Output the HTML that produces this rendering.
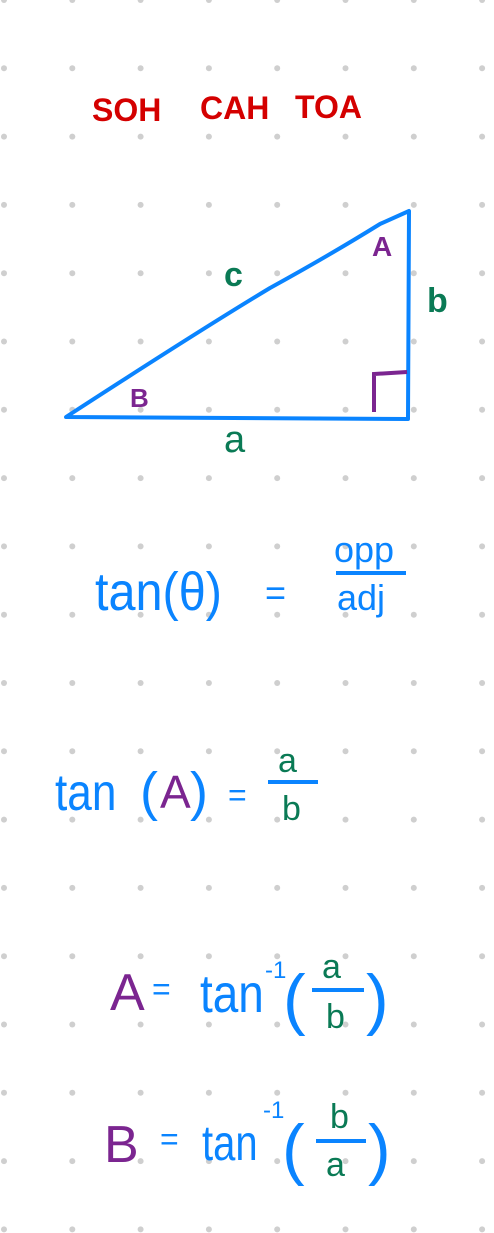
<!DOCTYPE html>
<html><head><meta charset="utf-8"><style>
html,body{margin:0;padding:0;background:#fff}
svg{display:block}
text{font-family:"Liberation Sans",sans-serif}
</style></head><body>
<svg id="s" width="494" height="1233" viewBox="0 0 494 1233">
<g id="dots"></g>
<g font-size="32" font-weight="bold" fill="#d40000">
<text x="92" y="121">SOH</text>
<text x="200" y="119">CAH</text>
<text x="295" y="118">TOA</text>
</g>
<g fill="none" stroke="#0a84ff" stroke-width="4" stroke-linecap="round" stroke-linejoin="round">
<path d="M66,417 Q200,330 270,288 Q330,255 380,224 L409,211 L408,419 Z"/>
</g>
<path d="M374,412 L374,374 L407,372" fill="none" stroke="#7b2590" stroke-width="4"/>
<text x="372" y="256" font-size="28" font-weight="bold" fill="#7b2590">A</text>
<text x="130" y="407" font-size="26" font-weight="bold" fill="#7b2590">B</text>
<text x="224" y="286" font-size="34" font-weight="bold" fill="#0a7a55">c</text>
<text x="427" y="312" font-size="34" font-weight="bold" fill="#0a7a55">b</text>
<text x="224" y="452" font-size="38" fill="#0a7a55">a</text>
<g>
<text x="95" y="610" font-size="54" fill="#0a84ff" transform="translate(95 0) scale(0.9 1) translate(-95 0)">tan(θ)</text>
<text x="265" y="605" font-size="36" fill="#0a84ff">=</text>
<text x="334" y="562" font-size="36" fill="#0a84ff">opp</text>
<line x1="336" y1="573" x2="406" y2="573" stroke="#0a84ff" stroke-width="4"/>
<text x="337" y="610" font-size="36" fill="#0a84ff">adj</text>
</g>
<g>
<text x="55" y="810" font-size="52" fill="#0a84ff" transform="translate(55 0) scale(0.85 1) translate(-55 0)">tan</text>
<text x="140" y="810" font-size="54" fill="#0a84ff">(</text>
<text x="160" y="808" font-size="46" fill="#7b2590">A</text>
<text x="190" y="810" font-size="54" fill="#0a84ff">)</text>
<text x="228" y="806" font-size="32" fill="#0a84ff">=</text>
<text x="278" y="772" font-size="34" fill="#0a7a55">a</text>
<line x1="268" y1="782" x2="318" y2="782" stroke="#0a84ff" stroke-width="4"/>
<text x="282" y="820" font-size="34" fill="#0a7a55">b</text>
</g>
<g>
<text x="110" y="1010" font-size="52" fill="#7b2590">A</text>
<text x="152" y="1000" font-size="32" fill="#0a84ff">=</text>
<text x="200" y="1012" font-size="54" fill="#0a84ff" transform="translate(200 0) scale(0.85 1) translate(-200 0)">tan</text>
<text x="265" y="978" font-size="24" fill="#0a84ff">-1</text>
<text x="283" y="1022" font-size="68" fill="#0a84ff">(</text>
<text x="322" y="978" font-size="34" fill="#0a7a55">a</text>
<line x1="312" y1="990" x2="364" y2="990" stroke="#0a84ff" stroke-width="4"/>
<text x="326" y="1028" font-size="34" fill="#0a7a55">b</text>
<text x="366" y="1022" font-size="68" fill="#0a84ff">)</text>
</g>
<g>
<text x="104" y="1162" font-size="52" fill="#7b2590">B</text>
<text x="160" y="1150" font-size="32" fill="#0a84ff">=</text>
<text x="202" y="1160" font-size="50" fill="#0a84ff" transform="translate(202 0) scale(0.8 1) translate(-202 0)">tan</text>
<text x="263" y="1118" font-size="24" fill="#0a84ff">-1</text>
<text x="282" y="1172" font-size="68" fill="#0a84ff">(</text>
<text x="330" y="1128" font-size="34" fill="#0a7a55">b</text>
<line x1="316" y1="1141" x2="366" y2="1141" stroke="#0a84ff" stroke-width="4"/>
<text x="326" y="1176" font-size="34" fill="#0a7a55">a</text>
<text x="368" y="1172" font-size="68" fill="#0a84ff">)</text>
</g>
</svg>
<script>
const g=document.getElementById('dots');
for(let r=0;r<19;r++){for(let c=0;c<8;c++){
const d=document.createElementNS('http://www.w3.org/2000/svg','circle');
d.setAttribute('cx',4+c*68.3);d.setAttribute('cy',r*68.3);d.setAttribute('r',3);d.setAttribute('fill','#cfcfcf');


g.appendChild(d);}}
</script>
</body></html>
